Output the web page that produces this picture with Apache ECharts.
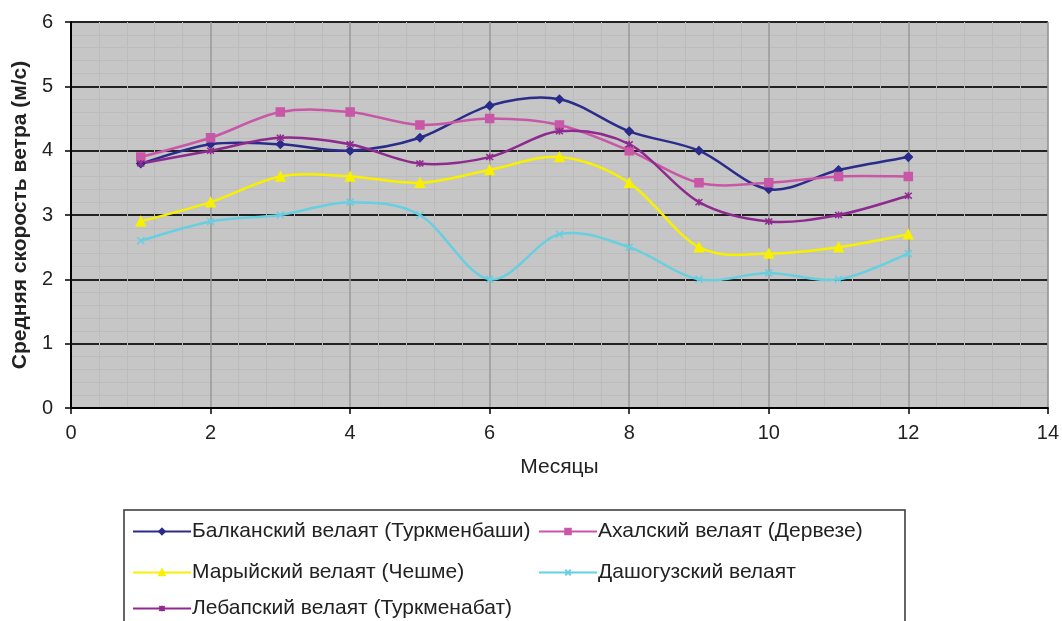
<!DOCTYPE html>
<html>
<head>
<meta charset="utf-8">
<script src="https://cdn.jsdelivr.net/npm/echarts@6/dist/echarts.min.js"></script>
<style>
  html, body { margin: 0; padding: 0; background: #fff; }
  #chart { width: 1062px; height: 621px; }
</style>
</head>
<body>
<div id="chart"></div>
<script>
var months = [1, 2, 3, 4, 5, 6, 7, 8, 9, 10, 11, 12];
var balkan = [3.8, 4.1, 4.1, 4.0, 4.2, 4.7, 4.8, 4.3, 4.0, 3.4, 3.7, 3.9];
var akhal = [3.9, 4.2, 4.6, 4.6, 4.4, 4.5, 4.4, 4.0, 3.5, 3.5, 3.6, 3.6];
var mary = [2.9, 3.2, 3.6, 3.6, 3.5, 3.7, 3.9, 3.5, 2.5, 2.4, 2.5, 2.7];
var dashoguz = [2.6, 2.9, 3.0, 3.2, 3.0, 2.0, 2.7, 2.5, 2.0, 2.1, 2.0, 2.4];
var lebap = [3.8, 4.0, 4.2, 4.1, 3.8, 3.9, 4.3, 4.1, 3.2, 2.9, 3.0, 3.3];

var names = [
  'Балканский велаят (Туркменбаши)',
  'Ахалский велаят (Дервезе)',
  'Марыйский велаят (Чешме)',
  'Дашогузский велаят',
  'Лебапский велаят (Туркменабат)'
];
var colors = ['#2b2b8c', '#c957a7', '#f7f000', '#66cfe0', '#8e2a8e'];

var font = '"Liberation Sans", Arial, sans-serif';
var crossPath = 'path://M0,0L10,10M10,0L0,10';
var starPath = 'path://M0,0L10,10M10,0L0,10M5,-1L5,11';

function pairs(vals) {
  var out = [];
  for (var i = 0; i < months.length; i++) out.push([months[i], vals[i]]);
  return out;
}

// each segment carries its neighbours so the curve can be drawn like Excel's smoothing
function segments(vals) {
  var out = [];
  var n = vals.length;
  for (var i = 0; i < n - 1; i++) {
    var a = Math.max(i - 1, 0), d = Math.min(i + 2, n - 1);
    out.push([months[a], vals[a], months[i], vals[i], months[i + 1], vals[i + 1], months[d], vals[d]]);
  }
  return out;
}

function curveSeries(vals, color) {
  return {
    type: 'custom',
    data: segments(vals),
    encode: { x: [0, 2, 4, 6], y: [1, 3, 5, 7] },
    silent: true,
    z: 2,
    renderItem: function (params, api) {
      var p0 = api.coord([api.value(0), api.value(1)]);
      var p1 = api.coord([api.value(2), api.value(3)]);
      var p2 = api.coord([api.value(4), api.value(5)]);
      var p3 = api.coord([api.value(6), api.value(7)]);
      var t = 1 / 6;
      return {
        type: 'bezierCurve',
        shape: {
          x1: p1[0], y1: p1[1], x2: p2[0], y2: p2[1],
          cpx1: p1[0] + (p2[0] - p0[0]) * t, cpy1: p1[1] + (p2[1] - p0[1]) * t,
          cpx2: p2[0] - (p3[0] - p1[0]) * t, cpy2: p2[1] - (p3[1] - p1[1]) * t
        },
        style: { stroke: color, lineWidth: 2.5, fill: null }
      };
    }
  };
}

function markSeries(name, vals, color, symbol, size) {
  return {
    name: name,
    type: 'line',
    data: pairs(vals),
    symbol: symbol,
    symbolSize: size,
    showAllSymbol: true,
    z: 3,
    lineStyle: { color: color, width: 2.5, opacity: 0 },
    itemStyle: { color: color, borderColor: color, borderWidth: 1.5 },
    emphasis: { disabled: true }
  };
}

// one legend per entry so the two columns line up like the original box
function legendAt(i, left, top) {
  return {
    left: left, top: top,
    padding: 0,
    itemWidth: 58, itemHeight: 7,
    textStyle: { fontSize: 21, color: '#222', fontFamily: font, padding: [0, 0, 0, -4] },
    data: [{ name: names[i], lineStyle: { color: colors[i], width: 2, opacity: 1 } }]
  };
}

var chart = echarts.init(document.getElementById('chart'));
var option = {
  animation: false,
  textStyle: { fontFamily: font },
  grid: {
    left: 71, right: 14, top: 22, bottom: 213,
    show: true,
    backgroundColor: '#c6c6c6',
    borderColor: '#999',
    borderWidth: 1
  },
  xAxis: {
    type: 'value',
    min: 0, max: 14, interval: 2,
    name: 'Месяцы',
    nameLocation: 'middle',
    nameGap: 49,
    nameTextStyle: { fontSize: 21, color: '#222', fontFamily: font },
    axisLine: { show: true, onZero: false, lineStyle: { color: '#000', width: 2 } },
    axisTick: { show: true, length: 6, lineStyle: { color: '#000', width: 1.5 } },
    axisLabel: { fontSize: 20, color: '#222', margin: 15, fontFamily: font },
    splitLine: { show: true, lineStyle: { color: '#999', width: 1.5 } },
    minorTick: { show: false, splitNumber: 5 },
    minorSplitLine: { show: true, lineStyle: { color: '#bcbcbc', width: 1 } }
  },
  yAxis: {
    type: 'value',
    min: 0, max: 6, interval: 1,
    name: 'Средняя скорость ветра (м/с)',
    nameLocation: 'middle',
    nameGap: 35,
    nameRotate: 90,
    nameTextStyle: { fontSize: 21, fontWeight: 'bold', color: '#222', fontFamily: font },
    axisLine: { show: true, onZero: false, lineStyle: { color: '#000', width: 2 } },
    axisTick: { show: true, length: 6, lineStyle: { color: '#000', width: 1.5 } },
    axisLabel: { fontSize: 20, color: '#222', margin: 18, fontFamily: font },
    splitLine: { show: true, lineStyle: { color: '#222', width: 2 } },
    minorTick: { show: false, splitNumber: 5 },
    minorSplitLine: { show: true, lineStyle: { color: '#bcbcbc', width: 1 } }
  },
  graphic: [{
    type: 'rect',
    shape: { x: 124, y: 510, width: 781, height: 130 },
    style: { fill: '#fff', stroke: '#333', lineWidth: 1.5 },
    z: 0
  }],
  legend: [
    legendAt(0, 132, 521),
    legendAt(1, 538, 521),
    legendAt(2, 132, 562),
    legendAt(3, 538, 562),
    legendAt(4, 132, 598)
  ],
  series: [
    curveSeries(balkan, colors[0]),
    curveSeries(akhal, colors[1]),
    curveSeries(mary, colors[2]),
    curveSeries(dashoguz, colors[3]),
    curveSeries(lebap, colors[4]),
    markSeries(names[0], balkan, colors[0], 'diamond', 8),
    markSeries(names[1], akhal, colors[1], 'rect', 8),
    markSeries(names[2], mary, colors[2], 'triangle', 9),
    markSeries(names[3], dashoguz, colors[3], crossPath, 7),
    markSeries(names[4], lebap, colors[4], starPath, 7)
  ]
};
chart.setOption(option);
</script>
</body>
</html>
